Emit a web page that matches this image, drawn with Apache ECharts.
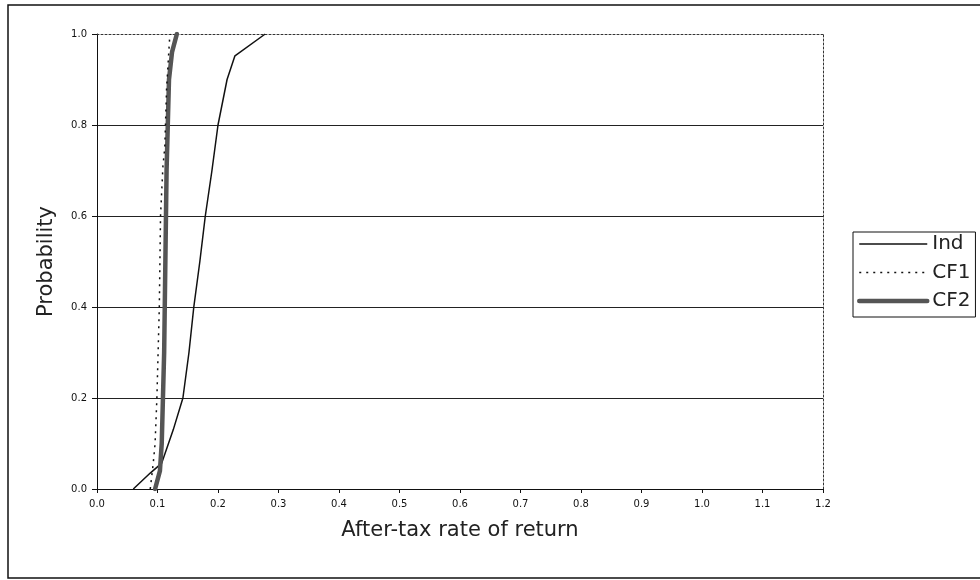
<!DOCTYPE html>
<html>
<head>
<meta charset="utf-8">
<script src="https://cdn.jsdelivr.net/npm/echarts@6/dist/echarts.min.js"></script>
<style>
html,body{margin:0;padding:0;background:#fff;}
#chart{width:980px;height:580px;}
</style>
</head>
<body>
<div id="chart"></div>
<script>
// ---- data (x = after-tax rate of return, y = cumulative probability) ----
var seriesNames = ['Ind', 'CF1', 'CF2'];
var indX = [0.060, 0.088, 0.107, 0.126, 0.142, 0.152, 0.160, 0.170, 0.179, 0.190, 0.200, 0.215, 0.228, 0.278];
var indY = [0.000, 0.035, 0.057, 0.130, 0.200, 0.300, 0.400, 0.500, 0.600, 0.700, 0.800, 0.900, 0.952, 1.000];
var cf1X = [0.088, 0.093, 0.096, 0.099, 0.101, 0.103, 0.104, 0.105, 0.109, 0.112, 0.115, 0.120, 0.122];
var cf1Y = [0.000, 0.057, 0.100, 0.200, 0.300, 0.400, 0.500, 0.600, 0.710, 0.750, 0.880, 0.990, 1.000];
var cf2X = [0.096, 0.104, 0.107, 0.109, 0.111, 0.112, 0.113, 0.114, 0.115, 0.117, 0.119, 0.124, 0.132];
var cf2Y = [0.000, 0.040, 0.100, 0.200, 0.300, 0.400, 0.500, 0.600, 0.700, 0.800, 0.900, 0.960, 1.000];
var xTicks = [0.0, 0.1, 0.2, 0.3, 0.4, 0.5, 0.6, 0.7, 0.8, 0.9, 1.0, 1.1, 1.2];
var yTicks = [0.0, 0.2, 0.4, 0.6, 0.8, 1.0];
var xTitle = 'After-tax rate of return';
var yTitle = 'Probability';

function pairs(xs, ys) { return xs.map(function (x, i) { return [x, ys[i]]; }); }

var FONT = '"DejaVu Sans", Verdana, sans-serif';
var chart = echarts.init(document.getElementById('chart'), null, { renderer: 'canvas' });

var lineStyles = {
  Ind: { color: '#111', width: 1.5 },
  CF1: { color: '#111', width: 1.5, type: [2, 5] },
  CF2: { color: '#555', width: 4.5, cap: 'round' }
};

var option = {
  backgroundColor: '#ffffff',
  animation: false,
  textStyle: { fontFamily: FONT, color: '#000' },
  graphic: [{
    type: 'rect', silent: true, z: 100,
    shape: { x: 8, y: 5, width: 975, height: 573 },
    style: { fill: 'none', stroke: '#111', lineWidth: 1.5 }
  }],
  grid: { left: 97, right: 157, top: 34, bottom: 91, containLabel: false },
  legend: {
    orient: 'vertical',
    left: 853, top: 232,
    padding: [2, 5, 6, 4],
    itemGap: 8.5,
    itemWidth: 68, itemHeight: 18,
    borderColor: '#111', borderWidth: 1,
    itemStyle: { opacity: 0 },
    textStyle: { fontFamily: FONT, fontSize: 20, color: '#222', lineHeight: 18 },
    data: seriesNames.map(function (n) {
      return { name: n, lineStyle: lineStyles[n], itemStyle: { opacity: 0 } };
    })
  },
  xAxis: [{
    type: 'value', min: xTicks[0], max: xTicks[xTicks.length - 1], interval: 0.1,
    position: 'bottom',
    name: xTitle, nameLocation: 'middle', nameGap: 31,
    nameTextStyle: { fontFamily: FONT, fontSize: 21, color: '#222' },
    axisLine: { show: true, lineStyle: { color: '#111', width: 1 } },
    axisTick: { show: true, inside: false, length: 4, lineStyle: { color: '#111' } },
    axisLabel: { fontFamily: FONT, fontSize: 10, color: '#111', margin: 10,
      formatter: function (v) { return v.toFixed(1); } },
    splitLine: { show: false }
  }, {
    type: 'value', min: xTicks[0], max: xTicks[xTicks.length - 1], position: 'top',
    axisLine: { show: true, onZero: false, lineStyle: { color: '#333', width: 1, type: [2, 2] } },
    axisTick: { show: false }, axisLabel: { show: false }, splitLine: { show: false }
  }],
  yAxis: [{
    type: 'value', min: yTicks[0], max: yTicks[yTicks.length - 1], interval: 0.2,
    position: 'left',
    name: yTitle, nameLocation: 'middle', nameGap: 40,
    nameTextStyle: { fontFamily: FONT, fontSize: 21, color: '#222' },
    axisLine: { show: true, lineStyle: { color: '#111', width: 1 } },
    axisTick: { show: true, inside: false, length: 5, lineStyle: { color: '#111' } },
    axisLabel: { fontFamily: FONT, fontSize: 10, color: '#111', margin: 10,
      formatter: function (v) { return v.toFixed(1); } },
    splitLine: { show: true, showMinLine: false, showMaxLine: false, lineStyle: { color: '#222', width: 1 } }
  }, {
    type: 'value', min: yTicks[0], max: yTicks[yTicks.length - 1], position: 'right',
    axisLine: { show: true, onZero: false, lineStyle: { color: '#333', width: 1, type: [2, 2] } },
    axisTick: { show: false }, axisLabel: { show: false }, splitLine: { show: false }
  }],
  series: [{
    name: 'Ind', type: 'line', data: pairs(indX, indY), symbol: 'none', z: 3,
    lineStyle: lineStyles.Ind, itemStyle: { color: '#111' }
  }, {
    name: 'CF1', type: 'line', data: pairs(cf1X, cf1Y), symbol: 'none', z: 5,
    lineStyle: lineStyles.CF1, itemStyle: { color: '#111' }
  }, {
    name: 'CF2', type: 'line', data: pairs(cf2X, cf2Y), symbol: 'none', z: 4,
    lineStyle: lineStyles.CF2, itemStyle: { color: '#555' }
  }]
};
chart.setOption(option);
</script>
</body>
</html>
